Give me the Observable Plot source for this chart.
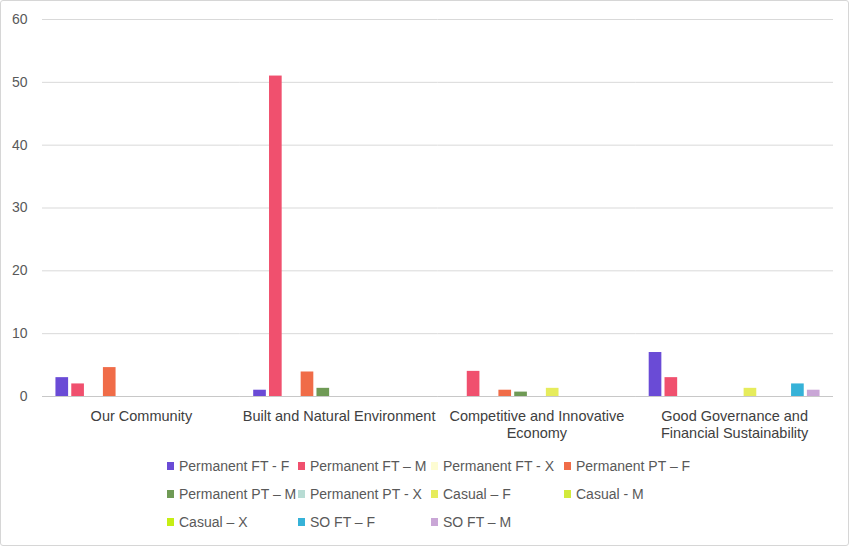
<!DOCTYPE html>
<html>
<head>
<meta charset="utf-8">
<script src="https://cdn.jsdelivr.net/npm/d3@7"></script>
<script src="https://cdn.jsdelivr.net/npm/@observablehq/plot@0.6"></script>
<style>
  html, body { margin: 0; padding: 0; background: #fff; }
  #wrap { width: 849px; height: 546px; box-sizing: border-box; border: 1px solid #d6d6d6; border-radius: 3px; position: relative; overflow: hidden; font-family: "Liberation Sans", Arial, sans-serif; }
  #legend { position: absolute; left: 166px; top: 451px; display: grid; grid-template-columns: 131px 133px 133px 160px; grid-auto-rows: 28px; font-size: 14px; color: #595959; }
  .item { display: flex; align-items: center; white-space: nowrap; }
  .sw { width: 7px; height: 8px; margin-right: 5px; flex: none; }
</style>
</head>
<body>
<div id="wrap"><div id="chart"></div><div id="legend"></div></div>
<script>
const categories = ["Our Community", "Built and Natural Environment", "Competitive and Innovative Economy", "Good Governance and Financial Sustainability"];
const categoryLabels = ["Our Community", "Built and Natural Environment", "Competitive and Innovative\nEconomy", "Good Governance and\nFinancial Sustainability"];
const series = ["Permanent FT - F", "Permanent FT – M", "Permanent FT - X", "Permanent PT – F", "Permanent PT – M", "Permanent PT - X", "Casual – F", "Casual - M", "Casual – X", "SO FT – F", "SO FT – M"];
const colors = ["#6a4bd6", "#f0506e", "#fdfcd2", "#f06c48", "#6f9a55", "#b8dcd4", "#e6ec5c", "#d2ea3c", "#c6ee14", "#36b2d8", "#c9a6d6"];
// values per series, in category order
const permanentFTF = [3, 1, 0, 7];
const permanentFTM = [2, 51, 4, 3];
const permanentFTX = [0, 0, 0, 0];
const permanentPTF = [4.6, 3.9, 1, 0];
const permanentPTM = [0, 1.3, 0.7, 0];
const permanentPTX = [0, 0, 0, 0];
const casualF = [0, 0, 1.3, 1.3];
const casualM = [0, 0, 0, 0];
const casualX = [0, 0, 0, 0];
const soFTF = [0, 0, 0, 2];
const soFTM = [0, 0, 0, 1];
const yTicks = [0, 10, 20, 30, 40, 50, 60];

const seriesValues = [permanentFTF, permanentFTM, permanentFTX, permanentPTF, permanentPTM, permanentPTX, casualF, casualM, casualX, soFTF, soFTM];
const data = [];
series.forEach((s, i) => categories.forEach((c, j) => data.push({series: s, category: c, value: seriesValues[i][j]})));
const labelOf = new Map(categories.map((c, i) => [c, categoryLabels[i]]));

const chart = Plot.plot({
  width: 847,
  height: 450,
  marginLeft: 41,
  marginRight: 15,
  marginTop: 18,
  marginBottom: 55,
  style: {fontFamily: "Liberation Sans, Arial, sans-serif", fontSize: "14px", color: "#595959", background: "transparent"},
  fx: {domain: categories, padding: 0, axis: null, round: false},
  x: {domain: series, axis: null, paddingInner: 0.2, paddingOuter: 0.85, round: false},
  y: {domain: [0, 60], axis: null},
  color: {domain: series, range: colors},
  marks: [
    Plot.gridY(yTicks, {stroke: "#d9d9d9", strokeOpacity: 1}),
    Plot.axisY(yTicks, {tickSize: 0, tickPadding: 15, label: null, fill: "#595959", fontSize: 14}),
    Plot.barY(data, {fx: "category", x: "series", y: "value", fill: "series"}),
    Plot.ruleY([0], {stroke: "#c8c8c8"}),
    Plot.axisFx({anchor: "bottom", tickSize: 0, tickPadding: 12, label: null, lineHeight: 1.2, fontSize: 14.5, fill: "#404040", tickFormat: d => labelOf.get(d)})
  ]
});
document.getElementById("chart").appendChild(chart);

const legend = document.getElementById("legend");
series.forEach((s, i) => {
  const item = document.createElement("div");
  item.className = "item";
  const sw = document.createElement("span");
  sw.className = "sw";
  sw.style.background = colors[i];
  item.appendChild(sw);
  item.appendChild(document.createTextNode(s));
  legend.appendChild(item);
});
</script>
</body>
</html>
